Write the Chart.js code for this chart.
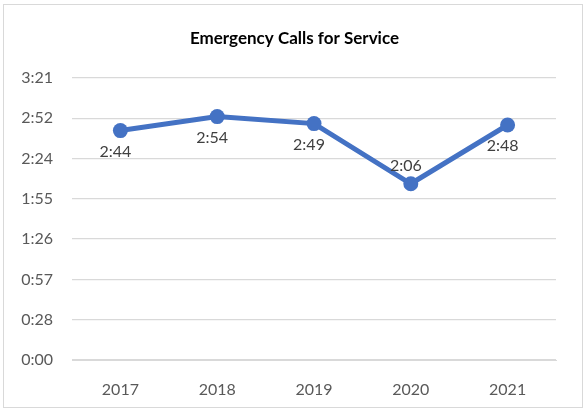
<!DOCTYPE html>
<html>
<head>
<meta charset="utf-8">
<script src="https://cdn.jsdelivr.net/npm/chart.js@4.4.1/dist/chart.umd.min.js"></script>
<style>
  html, body { margin: 0; padding: 0; background: #ffffff; }
  #wrap { width: 585px; height: 411px; }
</style>
</head>
<body>
<div id="wrap"><canvas id="calls-chart" width="585" height="411"></canvas></div>
<script>
// Tempo médio de resposta (segundos)
const years = ['2017', '2018', '2019', '2020', '2021'];
const responseSeconds = [164, 174, 169, 126, 168];
const yTickValues = [0, 28.8, 57.6, 86.4, 115.2, 144, 172.8, 201.6];
const yTickLabels = ['0:00', '0:28', '0:57', '1:26', '1:55', '2:24', '2:52', '3:21'];

const FONT = "'Lato', 'Open Sans', sans-serif";
const BLUE = '#4472C4';
const GRID = '#d9d9d9';

function fmtTime(sec) {
    const m = Math.floor(sec / 60);
    const s = Math.floor(sec % 60);
    return m + ':' + String(s).padStart(2, '0');
}

// borda externa do gráfico + título centralizado como no Excel
const frame = {
    id: 'frame',
    afterLayout(chart) {
        if (chart.titleBlock) {
            chart.titleBlock.left = 33;
            chart.titleBlock.right = chart.chartArea.right;
        }
    },
    beforeDraw(chart) {
        const ctx = chart.ctx;
        ctx.save();
        ctx.fillStyle = '#ffffff';
        ctx.fillRect(0, 0, chart.width, chart.height);
        ctx.strokeStyle = GRID;
        ctx.lineWidth = 1;
        ctx.strokeRect(3.5, 4.5, 579, 403);
        ctx.restore();
    }
};

// rótulos de dados estilo Excel
const pointLabels = {
    id: 'pointLabels',
    afterDatasetsDraw(chart, args, opts) {
        const ctx = chart.ctx;
        const meta = chart.getDatasetMeta(0);
        ctx.save();
        ctx.font = '16px ' + FONT;
        ctx.fillStyle = '#404040';
        ctx.textAlign = 'center';
        ctx.textBaseline = 'middle';
        meta.data.forEach((pt, i) => {
            const above = opts.above.includes(i);
            const y = above ? pt.y - 18 : pt.y + 21;
            ctx.fillText(fmtTime(responseSeconds[i]), pt.x - 5, y);
        });
        ctx.restore();
    }
};

new Chart(document.getElementById('calls-chart'), {
    type: 'line',
    data: {
        labels: years,
        datasets: [{
            data: responseSeconds,
            borderColor: BLUE,
            backgroundColor: BLUE,
            borderWidth: 5,
            pointRadius: 7.5,
            pointHoverRadius: 7.5,
            pointBackgroundColor: BLUE,
            pointBorderWidth: 0,
            tension: 0
        }]
    },
    options: {
        responsive: false,
        animation: false,
        layout: {
            padding: { left: 0, right: 29, top: 0, bottom: 0 }
        },
        plugins: {
            legend: { display: false },
            tooltip: { enabled: false },
            title: {
                display: true,
                text: 'Emergency Calls for Service',
                color: '#000000',
                font: { family: FONT, size: 17, weight: 'bold', lineHeight: 1.2 },
                padding: { top: 28, bottom: 29.6 }
            },
            pointLabels: { above: [3] }
        },
        scales: {
            x: {
                offset: true,
                grid: { display: false, drawTicks: false },
                border: { color: GRID, width: 1 },
                ticks: {
                    color: '#595959',
                    font: { family: FONT, size: 16 },
                    padding: 20
                },
                afterFit(scale) { scale.height = 51; }
            },
            y: {
                min: 0,
                max: 201.6,
                grid: { color: GRID, lineWidth: 1.3, drawTicks: false },
                border: { display: false },
                ticks: {
                    color: '#595959',
                    font: { family: FONT, size: 16 },
                    padding: 19,
                    callback: (v) => {
                        const idx = yTickValues.findIndex(t => Math.abs(t - v) < 0.01);
                        return idx >= 0 ? yTickLabels[idx] : '';
                    }
                },
                afterBuildTicks(scale) {
                    scale.ticks = yTickValues.map(v => ({ value: v }));
                },
                afterFit(scale) { scale.width = 72; }
            }
        }
    },
    plugins: [frame, pointLabels]
});
</script>
</body>
</html>
